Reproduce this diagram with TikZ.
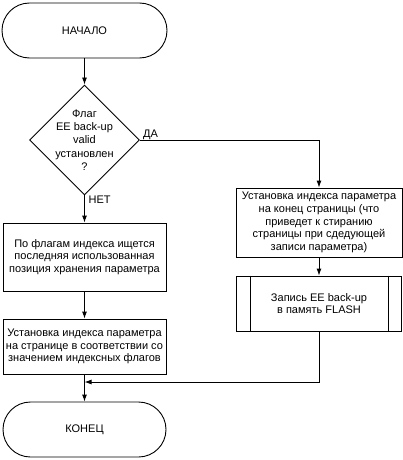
\documentclass[tikz,border=0pt]{standalone}
\usepackage{fontspec}
\setmainfont{Liberation Sans}
\usetikzlibrary{shapes.geometric,arrows.meta}
\begin{document}
\begin{tikzpicture}[x=1pt,y=-1pt,
  every node/.style={font=\fontsize{11}{12.7}\selectfont},
  box/.style={draw, line width=0.9pt, align=center, inner sep=0pt},
  term/.style={box, rounded corners=27.5pt, minimum width=165pt, minimum height=55pt},
  procbox/.style={box},
  decision/.style={draw, line width=0.9pt, diamond, inner sep=0pt, minimum width=110pt, minimum height=110pt},
  link/.style={line width=0.9pt},
  arr/.style={link, -{Latex[length=7pt,width=5pt]}},
  lbl/.style={inner sep=0pt}
]
\useasboundingbox (0,0) rectangle (403,460);

\node[term] (start) at (84.5,30.5) {НАЧАЛО};
\node[decision, label={[align=center, font=\fontsize{11}{13.3}\selectfont]center:{Флаг\\EE back-up\\valid\\установлен\\?}}] (dec) at (84.5,140) {};
\node[procbox, minimum width=163pt, minimum height=68pt] (lb1) at (84.5,257)
  {По флагам индекса ищется\\последняя использованная\\позиция хранения параметра};
\node[procbox, minimum width=163pt, minimum height=55pt] (lb2) at (84.5,346.5)
  {Установка индекса параметра\\на странице в соответствии со\\значением индексных флагов};
\node[term, minimum width=163pt] (end) at (84.5,429.5) {КОНЕЦ};
\node[procbox, minimum width=166pt, minimum height=69pt] (rb1) at (319,222.5)
  {Установка индекса параметра\\на конец страницы (что\\приведет к стиранию\\страницы при сдедующей\\записи параметра)};
\node[procbox, minimum width=165pt, minimum height=55pt] (rb2) at (319,303.5)
  {Запись EE back-up\\в память FLASH};
\draw[link] ([xshift=14pt]rb2.north west) -- ([xshift=14pt]rb2.south west);
\draw[link] ([xshift=-14pt]rb2.north east) -- ([xshift=-14pt]rb2.south east);

\coordinate (merge) at (84.5,382);

\draw[arr] (start) -- (dec);
\draw[arr] (dec) -- (lb1);
\draw[arr] (lb1) -- (lb2);
\draw[arr] (lb2) -- (end);
\draw[arr] (dec.east) -| (rb1.north);
\draw[arr] (rb1) -- (rb2);
\draw[arr] (rb2.south) |- (merge);

\node[lbl, anchor=base west] (da) at (143,137) {ДА};
\node[lbl, anchor=base west] (net) at (88.5,203) {НЕТ};
\end{tikzpicture}
\end{document}
